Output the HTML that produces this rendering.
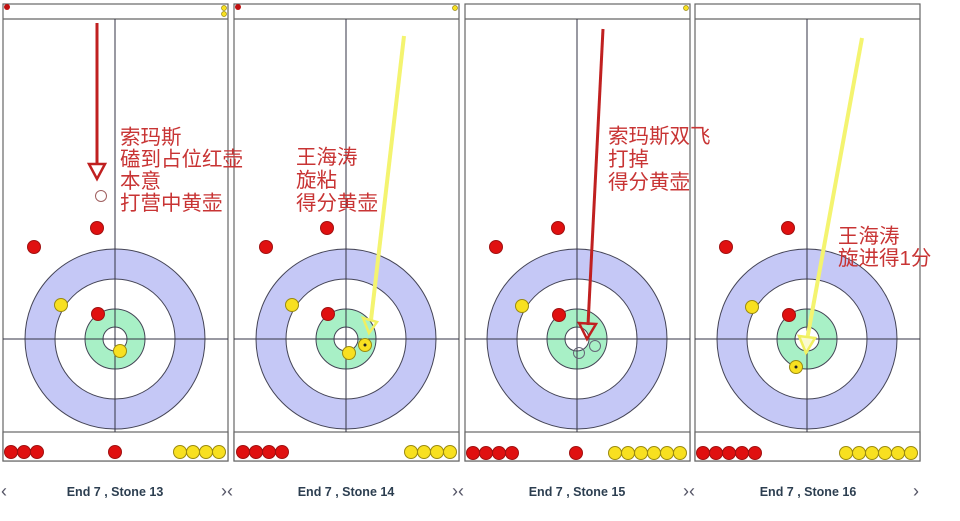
<!DOCTYPE html>
<html><head><meta charset="utf-8"><style>
html,body{margin:0;padding:0;background:#fff;width:960px;height:521px;overflow:hidden}
svg{display:block}
.t{font-family:"Liberation Sans","Noto Sans CJK SC",sans-serif;font-size:20.5px;fill:#c83434}
.f{font-family:"Liberation Sans",sans-serif;font-size:12.5px;font-weight:bold;fill:#2c3e50}
.n{font-family:"Liberation Sans",sans-serif;font-size:18px;fill:#556}
</style></head><body>
<svg width="960" height="521" viewBox="0 0 960 521" xmlns="http://www.w3.org/2000/svg">
<defs>
<g id="rink">
<rect x="3" y="4" width="225" height="457" fill="#fff" stroke="#666" stroke-width="1.2"/>
<line x1="3" y1="19" x2="228" y2="19" stroke="#666" stroke-width="1.2"/>
<circle cx="115" cy="339" r="90" fill="#c5c8f6" stroke="#445" stroke-width="1"/>
<circle cx="115" cy="339" r="60" fill="#fff" stroke="#445" stroke-width="1"/>
<circle cx="115" cy="339" r="30" fill="#a8f0c6" stroke="#445" stroke-width="1"/>
<circle cx="115" cy="339" r="12" fill="#fff" stroke="#445" stroke-width="1"/>
<rect x="3" y="432" width="225" height="29" fill="#fff" stroke="#666" stroke-width="1.2"/>
<line x1="115" y1="19" x2="115" y2="432" stroke="#334" stroke-width="1"/>
<line x1="3" y1="339" x2="228" y2="339" stroke="#334" stroke-width="1"/>
</g>
<circle id="r" r="6.5" fill="#e01010" stroke="#a01010" stroke-width="1"/>
<circle id="y" r="6.5" fill="#f8e020" stroke="#9a8a10" stroke-width="1"/>
</defs>

<use href="#rink"/>
<use href="#rink" x="231"/>
<use href="#rink" x="462"/>
<use href="#rink" x="692"/>

<!-- Panel 1 -->
<circle cx="7" cy="7" r="3" fill="#c01010"/>
<circle cx="224" cy="8" r="2.5" fill="#f8e020" stroke="#9a8a10" stroke-width=".7"/>
<circle cx="224" cy="14" r="2.5" fill="#f8e020" stroke="#9a8a10" stroke-width=".7"/>
<line x1="97" y1="23" x2="97" y2="165" stroke="#c02020" stroke-width="3"/>
<polygon points="89,164 105,164 97,179" fill="none" stroke="#c02020" stroke-width="2.5"/>
<circle cx="101" cy="196" r="5.5" fill="none" stroke="#a06060" stroke-width="1"/>
<use href="#r" x="97" y="228"/><use href="#r" x="34" y="247"/>
<use href="#y" x="61" y="305"/><use href="#r" x="98" y="314"/><use href="#y" x="120" y="351"/>
<use href="#r" x="11" y="452"/><use href="#r" x="24" y="452"/><use href="#r" x="37" y="452"/>
<use href="#r" x="115" y="452"/>
<use href="#y" x="180" y="452"/><use href="#y" x="193" y="452"/><use href="#y" x="206" y="452"/><use href="#y" x="219" y="452"/>
<text class="t" x="120" y="144">索玛斯</text>
<text class="t" x="120" y="166">磕到占位红壶</text>
<text class="t" x="120" y="188">本意</text>
<text class="t" x="120" y="210">打营中黄壶</text>

<!-- Panel 2 -->
<circle cx="238" cy="7" r="3" fill="#c01010"/>
<circle cx="455" cy="8" r="2.5" fill="#f8e020" stroke="#9a8a10" stroke-width=".7"/>
<use href="#r" x="327" y="228"/><use href="#r" x="266" y="247"/>
<use href="#y" x="292" y="305"/><use href="#r" x="328" y="314"/>
<use href="#y" x="349" y="353"/><use href="#y" x="365" y="345"/><circle cx="365" cy="345" r="1.5" fill="#222"/>
<line x1="404" y1="36" x2="371" y2="320" stroke="#f4f470" stroke-width="4"/>
<polygon points="363,318 377,322 369,333" fill="none" stroke="#f0f060" stroke-width="2.5"/>
<use href="#r" x="243" y="452"/><use href="#r" x="256" y="452"/><use href="#r" x="269" y="452"/><use href="#r" x="282" y="452"/>
<use href="#y" x="411" y="452"/><use href="#y" x="424" y="452"/><use href="#y" x="437" y="452"/><use href="#y" x="450" y="452"/>
<text class="t" x="296" y="164">王海涛</text>
<text class="t" x="296" y="187">旋粘</text>
<text class="t" x="296" y="210">得分黄壶</text>

<!-- Panel 3 -->
<circle cx="686" cy="8" r="2.5" fill="#f8e020" stroke="#9a8a10" stroke-width=".7"/>
<use href="#r" x="558" y="228"/><use href="#r" x="496" y="247"/>
<use href="#y" x="522" y="306"/><use href="#r" x="559" y="315"/>
<circle cx="579" cy="353" r="5.5" fill="none" stroke="#667" stroke-width="1"/>
<circle cx="595" cy="346" r="5.5" fill="none" stroke="#667" stroke-width="1"/>
<line x1="603" y1="29" x2="588" y2="325" stroke="#c02020" stroke-width="3"/>
<polygon points="579,323 596,324 587,339" fill="none" stroke="#c02020" stroke-width="2.5"/>
<use href="#r" x="473" y="453"/><use href="#r" x="486" y="453"/><use href="#r" x="499" y="453"/><use href="#r" x="512" y="453"/>
<use href="#r" x="576" y="453"/>
<use href="#y" x="615" y="453"/><use href="#y" x="628" y="453"/><use href="#y" x="641" y="453"/><use href="#y" x="654" y="453"/><use href="#y" x="667" y="453"/><use href="#y" x="680" y="453"/>
<text class="t" x="608" y="143">索玛斯双飞</text>
<text class="t" x="608" y="166">打掉</text>
<text class="t" x="608" y="189">得分黄壶</text>

<!-- Panel 4 -->
<use href="#r" x="788" y="228"/><use href="#r" x="726" y="247"/>
<use href="#y" x="752" y="307"/><use href="#r" x="789" y="315"/>
<use href="#y" x="796" y="367"/><circle cx="796" cy="367" r="1.5" fill="#222"/>
<line x1="862" y1="38" x2="807" y2="340" stroke="#f4f470" stroke-width="4"/>
<polygon points="799,336 815,338 806,353" fill="#fafad0" stroke="#f0f060" stroke-width="2.5"/>
<use href="#r" x="703" y="453"/><use href="#r" x="716" y="453"/><use href="#r" x="729" y="453"/><use href="#r" x="742" y="453"/><use href="#r" x="755" y="453"/>
<use href="#y" x="846" y="453"/><use href="#y" x="859" y="453"/><use href="#y" x="872" y="453"/><use href="#y" x="885" y="453"/><use href="#y" x="898" y="453"/><use href="#y" x="911" y="453"/>
<text class="t" x="838" y="243">王海涛</text>
<text class="t" x="838" y="265">旋进得1分</text>

<!-- Footer -->
<text class="n" x="1" y="497">‹</text>
<text class="f" x="115" y="496" text-anchor="middle">End 7 , Stone 13</text>
<text class="n" x="221" y="497">›‹</text>
<text class="f" x="346" y="496" text-anchor="middle">End 7 , Stone 14</text>
<text class="n" x="452" y="497">›‹</text>
<text class="f" x="577" y="496" text-anchor="middle">End 7 , Stone 15</text>
<text class="n" x="683" y="497">›‹</text>
<text class="f" x="808" y="496" text-anchor="middle">End 7 , Stone 16</text>
<text class="n" x="913" y="497">›</text>
</svg>
</body></html>
